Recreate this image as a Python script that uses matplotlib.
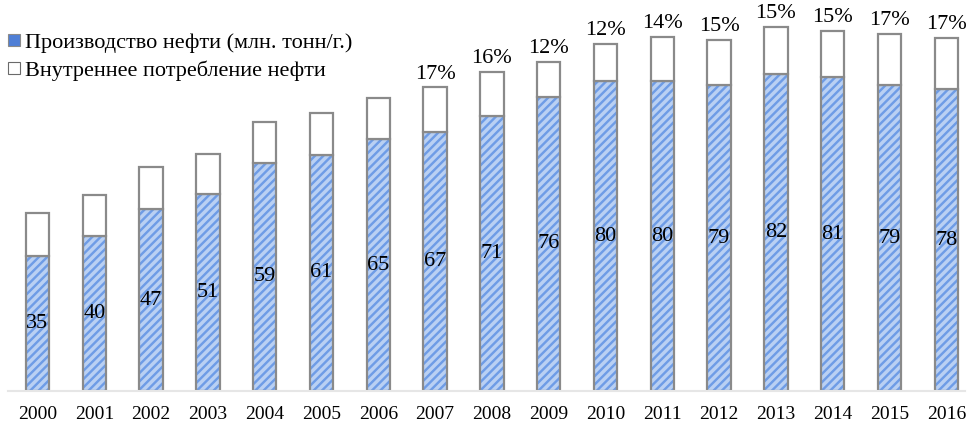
import numpy as np
import matplotlib.pyplot as plt
from matplotlib.lines import Line2D

plt.rcParams['font.family'] = ['Liberation Serif', 'DejaVu Serif']
plt.rcParams['hatch.linewidth'] = 2.5

years = [str(y) for y in range(2000, 2017)]
production = [35, 40, 47, 51, 59, 61, 65, 67, 71, 76, 80, 80, 79, 82, 81, 79, 78]
consumption = [10.9, 10.6, 10.9, 10.3, 10.6, 10.9, 10.6, 11.4, 11.4, 9.0,
               9.6, 11.4, 11.6, 12.1, 12.1, 13.2, 13.2]
share_labels = [None] * 7 + ["17%", "16%", "12%", "12%", "14%", "15%",
                             "15%", "15%", "17%", "17%"]

x = np.arange(len(years))
w = 0.41
edge = '#8a8a8a'

fig = plt.figure(figsize=(9.7, 4.22), dpi=100)
ax = fig.add_axes([8/970, 31/422, 957/970, 391/422])

# blue bars with light stripes, outline drawn separately
ax.bar(x, production, w, color='#6e9ce6', edgecolor='#b9d0f3', hatch='////', lw=0)
ax.bar(x, production, w, fill=False, edgecolor=edge, lw=1.6)
ax.bar(x, consumption, w, bottom=production, color='white', edgecolor=edge, lw=1.6)

for i in range(len(x)):
    ax.text(x[i], production[i] / 2, str(production[i]), ha='center', va='center',
            fontsize=16, color='black')
    if share_labels[i]:
        ax.text(x[i], production[i] + consumption[i] + 1.0, share_labels[i],
                ha='center', va='bottom', fontsize=16)

# legend
handles = [Line2D([], [], ls='none', marker='s', ms=8, mfc='#4f7fd6', mec='#8a8a8a', mew=0.8),
           Line2D([], [], ls='none', marker='s', ms=8, mfc='white', mec='#6a6a6a', mew=0.8)]
ax.legend(handles, ['Производство нефти (млн. тонн/г.)', 'Внутреннее потребление нефти'],
          loc='upper left', bbox_to_anchor=(-0.012, 0.94), frameon=False, fontsize=16,
          handletextpad=0.1, handlelength=0.8, labelspacing=0.35, borderaxespad=0)

ax.set_xlim(-0.519, 16.33)
ax.set_ylim(0, 101)
ax.set_yticks([])
ax.set_xticks(x)
ax.set_xticklabels(years, fontsize=14)
ax.tick_params(axis='x', length=0, pad=11)
for s in ['top', 'right', 'left']:
    ax.spines[s].set_visible(False)
ax.spines['bottom'].set_color('#e6e6e6')
ax.spines['bottom'].set_linewidth(1.5)

plt.savefig('out.png', dpi=100)
